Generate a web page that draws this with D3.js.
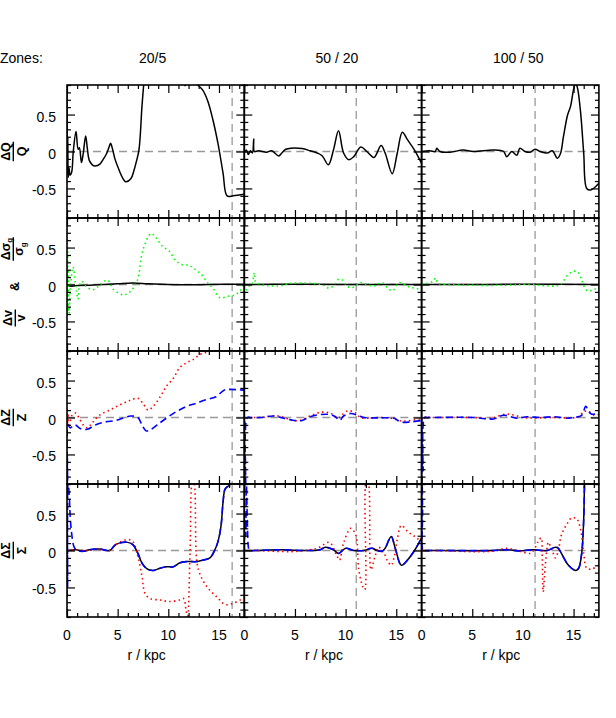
<!DOCTYPE html>
<html>
<head>
<meta charset="utf-8">
<script src="https://cdn.jsdelivr.net/npm/d3@7"></script>
<style>
  html, body { margin: 0; padding: 0; background: #fff; }
  svg { display: block; font-family: "Liberation Sans", Arial, Helvetica, sans-serif; }
</style>
</head>
<body>
<svg id="chart" width="616" height="718"></svg>
<script>
// ---------------- data ----------------
const zones = ["20/5", "50 / 20", "100 / 50"];
const rHalf = [16.3, 11.05, 11.2];               // vertical dashed marker, kpc
const rMajor = [0, 5, 10, 15];
const rMinor = [1, 2, 3, 4, 6, 7, 8, 9, 11, 12, 13, 14, 16, 17];
const yMajor = [-0.5, 0, 0.5];
const yMajorLabels = ["-0.5", "0", "0.5"];
const yMinor = [-0.9, -0.8, -0.7, -0.6, -0.4, -0.3, -0.2, -0.1, 0.1, 0.2, 0.3, 0.4, 0.6, 0.7, 0.8, 0.9];

// Row 1: dQ/Q (black)
const q_20_5 = [[0,0.85],[0.04,-0.3],[0.08,0.2],[0.12,-0.35],[0.2,-0.22],[0.3,-0.32],[0.46,-0.28],[0.62,0.0],[0.89,0.27],[1.1,0.03],[1.22,0.05],[1.43,-0.15],[1.6,-0.03],[1.84,0.21],[2.0,0.05],[2.2,-0.12],[2.5,-0.18],[2.76,-0.195],[3.25,-0.17],[3.6,-0.1],[3.9,-0.03],[4.15,0.06],[4.3,0.11],[4.5,0.03],[4.73,-0.1],[5.2,-0.27],[5.5,-0.36],[5.8,-0.41],[6.3,-0.37],[6.6,-0.26],[6.8,-0.16],[7.1,0.02],[7.4,0.61],[7.6,0.95],[8.0,1.5],[9.5,1.9],[11.0,1.3],[11.5,0.95],[11.65,0.89],[11.8,0.93],[12.3,0.96],[12.8,0.91],[13.4,0.83],[13.9,0.68],[14.4,0.43],[14.9,0.11],[15.4,-0.29],[15.8,-0.6],[16.4,-0.6],[17.5,-0.58]];
const q_50_20 = [[0,-0.02],[0.2,0.02],[0.4,-0.04],[0.6,0.01],[0.8,-0.02],[0.93,0.17],[1.0,0.0],[1.4,0.01],[2.2,-0.01],[2.7,0.01],[3.4,-0.06],[3.7,-0.02],[4.1,0.03],[4.6,0.045],[5.7,0.04],[6.5,0.01],[7.2,-0.02],[7.7,-0.06],[8.3,-0.18],[8.8,0.02],[9.3,0.28],[9.8,-0.02],[10.3,-0.11],[10.8,-0.07],[11.5,0.06],[12.1,0.0],[12.8,-0.08],[13.5,0.08],[13.9,-0.02],[14.6,-0.3],[15.1,-0.02],[15.6,0.26],[16.1,0.16],[16.8,0.02],[17.5,-0.16]];
const q_100_50 = [[0,0.0],[0.8,0.01],[1.35,0.0],[1.5,0.045],[1.8,0.0],[2.8,-0.01],[4.1,0.02],[5.1,0.0],[7.1,0.02],[8.1,0.0],[8.4,-0.07],[8.9,0.0],[9.4,-0.05],[9.7,0.045],[10.2,0.0],[10.7,-0.01],[11.2,0.03],[11.7,0.0],[12.4,-0.02],[12.9,0.01],[13.4,-0.09],[13.7,-0.03],[14.0,0.2],[14.4,0.49],[14.7,0.61],[15.0,0.84],[15.2,0.93],[15.4,0.85],[15.7,0.52],[16.0,-0.02],[16.3,-0.5],[16.7,-0.52],[17.5,-0.43]];

// Row 2: dv/v (black) and dsigma_g/sigma_g (green)
const v_20_5 = [[0,0.0],[0.2,-0.02],[1,-0.015],[3,-0.005],[5,0.01],[6.5,0.02],[8,0.01],[10,0.0],[12,-0.005],[14,0.0],[17.5,0.005]];
const v_50_20 = [[0,0.0],[5,0.005],[10,0.0],[17.5,0.0]];
const v_100_50 = [[0,0.0],[5,0.0],[10,0.005],[17.5,0.0]];
const sig_20_5 = [[0,0.88],[0.03,-0.3],[0.06,0.5],[0.09,-0.4],[0.12,0.2],[0.16,-0.35],[0.2,-0.39],[0.3,-0.1],[0.4,0.05],[0.5,0.18],[0.6,0.24],[0.8,0.04],[0.95,-0.1],[1.1,-0.2],[1.25,0.0],[1.5,0.04],[1.9,-0.03],[2.6,-0.07],[3.3,0.0],[4.0,0.06],[4.6,-0.07],[5.6,-0.14],[6.2,-0.1],[6.9,0.04],[7.5,0.47],[8.3,0.69],[8.8,0.63],[9.4,0.52],[10.1,0.45],[10.7,0.33],[11.3,0.27],[12.0,0.26],[12.7,0.2],[13.3,0.13],[13.9,0.02],[14.4,-0.05],[15.1,-0.18],[15.9,-0.16],[16.6,-0.14],[17.1,-0.08],[17.5,0.0]];
const sig_50_20 = [[0,-0.14],[0.4,-0.03],[0.75,0.0],[0.9,0.1],[0.99,0.16],[1.1,0.04],[1.6,0.0],[3.4,-0.02],[4.6,0.015],[7.6,0.0],[8.4,-0.05],[8.9,0.0],[9.3,0.07],[9.7,0.06],[10.2,-0.03],[10.7,-0.04],[11.5,0.025],[12.1,0.0],[12.8,-0.02],[13.6,0.025],[14.1,-0.04],[14.6,-0.085],[15.3,0.025],[15.8,0.0],[16.4,-0.04],[16.9,-0.05],[17.5,-0.075]];
const sig_100_50 = [[0,0.0],[1.1,0.04],[1.4,0.09],[1.6,0.02],[2.5,0.0],[8.4,-0.01],[10.4,0.0],[13.2,-0.02],[13.7,0.0],[14.0,0.05],[14.5,0.14],[15.0,0.18],[15.4,0.17],[15.8,0.06],[16.2,-0.066],[16.5,-0.09],[17.0,-0.07],[17.5,-0.03]];

// Row 3: dZ/Z, red dotted and blue dashed
const zr_20_5 = [[0,0.12],[0.05,-0.1],[0.1,0.05],[0.2,-0.13],[0.5,0.03],[0.86,0.06],[1.2,-0.01],[1.6,-0.1],[2.0,-0.14],[2.5,-0.07],[3.2,0.03],[4.2,0.1],[5.2,0.17],[6.2,0.23],[7.0,0.26],[7.5,0.19],[8.0,0.1],[8.5,0.15],[9.2,0.28],[9.8,0.42],[10.5,0.53],[11.1,0.67],[11.8,0.74],[12.4,0.78],[13.1,0.85],[13.7,0.88],[14.1,0.92],[15.0,1.05],[17.5,1.2]];
const zb_20_5 = [[0,-0.9],[0.03,-0.5],[0.06,-0.85],[0.1,-0.1],[0.3,-0.14],[0.8,-0.1],[1.3,-0.15],[2.0,-0.16],[2.8,-0.1],[3.8,-0.06],[4.8,-0.04],[5.7,0.0],[6.3,0.02],[7.0,0.0],[7.4,-0.1],[7.8,-0.18],[8.3,-0.16],[8.9,-0.1],[9.9,0.0],[10.8,0.08],[11.8,0.15],[12.7,0.19],[13.7,0.24],[14.7,0.28],[15.5,0.37],[16.0,0.38],[17.5,0.37]];
const zr_50_20 = [[0,0.0],[0.05,-0.1],[0.1,0.0],[0.5,0.0],[1.6,0.0],[3.4,0.02],[4.9,-0.045],[5.7,-0.03],[6.5,0.02],[7.5,0.07],[8.5,0.06],[9.2,-0.01],[9.6,0.03],[10.2,0.09],[10.9,0.07],[11.5,0.0],[13.5,0.0],[14.5,-0.01],[15.4,-0.045],[16.1,-0.045],[17.5,-0.015]];
const zb_50_20 = [[0,0.0],[0.05,-0.9],[0.1,-0.5],[0.15,-0.95],[0.3,0.0],[0.6,0.0],[1.6,0.0],[2.9,0.02],[3.9,-0.01],[4.9,-0.04],[5.7,-0.04],[6.5,0.01],[7.5,0.04],[8.5,0.04],[9.0,0.01],[9.4,-0.04],[9.8,0.02],[10.5,0.055],[11.2,0.03],[11.8,0.0],[13.5,-0.005],[14.8,-0.01],[15.4,-0.06],[16.4,-0.06],[17.5,-0.04]];
const zr_100_50 = [[0,0.0],[0.1,-0.1],[0.3,0.0],[1,0.0],[5,0.0],[6.8,-0.01],[8.3,0.045],[9.2,0.03],[10,0.0],[13,0.0],[15.5,0.01],[16.0,0.08],[16.5,0.08],[17.0,0.03],[17.5,0.045]];
const zb_100_50 = [[0,0.0],[0.05,-0.75],[0.1,-0.2],[0.15,-0.72],[0.3,0.0],[0.6,0.0],[5.1,0.0],[7.1,-0.02],[8.1,0.03],[9.4,-0.01],[10.4,0.01],[11.7,0.0],[13.1,0.01],[14.4,-0.01],[15.0,0.0],[15.8,0.03],[16.2,0.15],[16.5,0.08],[16.8,0.045],[17.5,0.055]];

// Row 4: dSigma/Sigma, black solid, blue dashed, red dotted
const sk_20_5 = [[0,0.0],[0.9,0.01],[1.7,-0.01],[2.2,0.01],[3.2,0.02],[4.2,0.0],[4.8,0.08],[5.5,0.11],[6.0,0.11],[6.5,0.08],[7.0,-0.04],[7.4,-0.17],[7.9,-0.25],[8.5,-0.27],[9.2,-0.24],[9.8,-0.22],[10.5,-0.22],[11.1,-0.17],[11.8,-0.15],[12.8,-0.15],[13.4,-0.13],[14.1,-0.1],[14.6,0.01],[14.9,0.12],[15.2,0.33],[15.4,0.65],[15.6,0.83],[15.9,0.87],[16.4,0.92],[17.5,0.95]];
const sb_20_5 = [[0,-0.63],[0.03,0.4],[0.06,-0.5],[0.1,0.92],[0.2,0.8],[0.3,0.5],[0.45,0.24],[0.7,0.05],[1.0,0.0],[1.7,-0.01],[2.2,0.01],[3.2,0.02],[4.2,0.0],[4.8,0.08],[5.5,0.11],[6.0,0.11],[6.5,0.08],[7.0,-0.04],[7.4,-0.17],[7.9,-0.25],[8.5,-0.27],[9.2,-0.24],[9.8,-0.22],[10.5,-0.22],[11.1,-0.17],[11.8,-0.15],[12.8,-0.15],[13.4,-0.13],[14.1,-0.1],[14.6,0.01],[14.9,0.12],[15.2,0.33],[15.4,0.65],[15.6,0.83],[15.9,0.87],[16.4,0.92],[17.5,0.95]];
const sr_20_5 = [[0,0.0],[1,0.01],[2,0.0],[3,0.02],[4.2,0.0],[4.8,0.08],[5.5,0.13],[6.0,0.15],[6.5,0.12],[7.0,-0.08],[7.4,-0.35],[7.7,-0.58],[8.2,-0.65],[9.2,-0.67],[10.1,-0.69],[11.1,-0.67],[11.5,-0.65],[11.75,-0.81],[11.9,-0.92],[12.15,0.0],[12.4,0.95],[12.5,0.95],[12.8,-0.13],[13.1,-0.31],[13.8,-0.49],[14.8,-0.63],[15.6,-0.73],[16.3,-0.72],[17.1,-0.67],[17.5,-0.66]];
const sk_50_20 = [[0,0.0],[1,0.0],[3.6,0.01],[6.2,0.0],[7.5,0.01],[8.0,0.045],[8.8,0.01],[9.3,-0.04],[10.0,0.03],[10.8,0.0],[11.8,0.0],[12.6,0.03],[13.1,0.0],[13.6,-0.01],[13.9,0.03],[14.5,0.19],[14.9,0.03],[15.5,-0.2],[16.1,-0.13],[16.8,0.0],[17.5,0.17]];
const sb_50_20 = [[0,0.0],[0.1,0.5],[0.15,0.2],[0.2,0.95],[0.3,0.4],[0.4,0.05],[0.5,0.0],[1,0.0],[3.6,0.01],[6.2,0.0],[7.5,0.01],[8.0,0.045],[8.8,0.01],[9.3,-0.04],[10.0,0.03],[10.8,0.0],[11.8,0.0],[12.6,0.03],[13.1,0.0],[13.6,-0.01],[13.9,0.03],[14.5,0.19],[14.9,0.03],[15.5,-0.2],[16.1,-0.13],[16.8,0.0],[17.5,0.17]];
const sr_50_20 = [[0,0.0],[1,0.0],[4.6,-0.015],[6,0.0],[7.2,0.03],[8.4,0.11],[9.1,-0.06],[9.4,-0.13],[9.8,0.1],[10.5,0.3],[11.0,0.21],[11.3,-0.26],[11.7,-0.49],[11.9,-0.53],[12.05,0.95],[12.2,0.95],[12.5,-0.26],[12.9,-0.08],[13.3,0.05],[13.5,0.0],[13.8,-0.04],[14.1,-0.13],[14.5,-0.2],[14.8,-0.08],[15.1,0.15],[15.5,0.34],[16.1,0.26],[16.8,0.19],[17.5,0.12]];
const sk_100_50 = [[0,0.0],[1,0.0],[7,0.0],[8.4,0.01],[9.7,-0.005],[11,0.01],[12.4,0.0],[13.2,0.045],[13.5,0.03],[13.8,-0.04],[14.5,-0.2],[15.2,-0.27],[15.5,-0.24],[15.8,-0.04],[16.0,0.42],[16.1,0.95],[16.3,1.3],[17.5,1.5]];
const sb_100_50 = [[0,0.0],[0.05,0.95],[0.1,0.5],[0.15,0.0],[0.4,0.0],[1,0.0],[7,0.0],[8.4,0.01],[9.7,-0.005],[11,0.01],[12.4,0.0],[13.2,0.045],[13.5,0.03],[13.8,-0.04],[14.5,-0.2],[15.2,-0.27],[15.5,-0.24],[15.8,-0.04],[16.0,0.42],[16.1,0.95],[16.3,1.3],[17.5,1.5]];
const sr_100_50 = [[0,0.0],[1,0.0],[7,-0.01],[8.4,0.03],[9.7,-0.01],[10.7,-0.04],[11.0,-0.01],[11.5,0.12],[11.8,0.17],[11.9,-0.04],[12.0,-0.56],[12.2,-0.22],[12.4,0.05],[12.5,0.11],[12.9,0.0],[13.2,-0.1],[13.5,0.0],[13.8,0.21],[14.4,0.37],[14.8,0.44],[15.3,0.43],[15.7,0.28],[16.0,-0.04],[16.3,-0.24],[16.8,-0.25],[17.5,-0.2]];

// ---------------- layout ----------------
const svg = d3.select("#chart");
const padL = 67, panelW = 177.3, padT = 85, panelH = 133;
const x = d3.scaleLinear().domain([0, 17.5]).range([0, panelW]);
const y = d3.scaleLinear().domain([-0.9, 0.9]).range([panelH, 0]);

const styles = {
  k: { stroke: "#000000", width: 1.5, dash: null },
  b: { stroke: "#0000ff", width: 1.6, dash: "7,4" },
  r: { stroke: "#ff0000", width: 1.6, dash: "1.5,3.2" },
  g: { stroke: "#00ff00", width: 1.6, dash: "1.5,3.2" }
};

const panels = [
  [[[q_20_5,"k"]], [[q_50_20,"k"]], [[q_100_50,"k"]]],
  [[[v_20_5,"k"],[sig_20_5,"g"]], [[v_50_20,"k"],[sig_50_20,"g"]], [[v_100_50,"k"],[sig_100_50,"g"]]],
  [[[zr_20_5,"r"],[zb_20_5,"b"]], [[zr_50_20,"r"],[zb_50_20,"b"]], [[zr_100_50,"r"],[zb_100_50,"b"]]],
  [[[sk_20_5,"k"],[sr_20_5,"r"],[sb_20_5,"b"]], [[sk_50_20,"k"],[sr_50_20,"r"],[sb_50_20,"b"]], [[sk_100_50,"k"],[sr_100_50,"r"],[sb_100_50,"b"]]]
];

const line = d3.line().x(d => x(d[0])).y(d => y(d[1])).curve(d3.curveCatmullRom.alpha(0.5));

const defs = svg.append("defs");
defs.append("clipPath").attr("id", "pclip").append("rect")
  .attr("x", 0).attr("y", 0).attr("width", panelW).attr("height", panelH);

// headers
svg.append("text").attr("x", 0).attr("y", 63).attr("font-size", 14).text("Zones:");
const headOffset = [-3, 4, 8];
zones.forEach((z, c) => {
  svg.append("text").attr("x", padL + c * panelW + panelW / 2 + headOffset[c]).attr("y", 63)
    .attr("text-anchor", "middle").attr("font-size", 14).text(z);
});

panels.forEach((row, ri) => {
  row.forEach((series, ci) => {
    const g = svg.append("g").attr("transform", `translate(${padL + ci * panelW},${padT + ri * panelH})`);
    const plot = g.append("g").attr("clip-path", "url(#pclip)");
    // reference lines
    plot.append("line").attr("x1", 0).attr("x2", panelW).attr("y1", y(0)).attr("y2", y(0))
      .attr("stroke", "#999").attr("stroke-width", 1.3).attr("stroke-dasharray", "8,5");
    plot.append("line").attr("x1", x(rHalf[ci])).attr("x2", x(rHalf[ci])).attr("y1", 0).attr("y2", panelH)
      .attr("stroke", "#999").attr("stroke-width", 1.3).attr("stroke-dasharray", "8,5");
    series.forEach(([data, st]) => {
      const s = styles[st];
      plot.append("path").datum(data).attr("d", line).attr("fill", "none")
        .attr("stroke", s.stroke).attr("stroke-width", s.width)
        .attr("stroke-dasharray", s.dash).attr("stroke-linejoin", "round");
    });
    // axes with inward ticks on all sides
    const mk = (axis, tr) => {
      const a = g.append("g").attr("transform", tr).call(axis);
      a.select(".domain").remove();
      a.selectAll("line").attr("stroke", "#000").attr("stroke-width", 1.2);
      a.selectAll("text").remove();
    };
    mk(d3.axisLeft(y).tickValues(yMajor).tickSize(-8).tickFormat(""), "translate(0,0)");
    mk(d3.axisLeft(y).tickValues(yMinor).tickSize(-4).tickFormat(""), "translate(0,0)");
    mk(d3.axisRight(y).tickValues(yMajor).tickSize(-8).tickFormat(""), `translate(${panelW},0)`);
    mk(d3.axisRight(y).tickValues(yMinor).tickSize(-4).tickFormat(""), `translate(${panelW},0)`);
    mk(d3.axisBottom(x).tickValues(rMajor).tickSize(-8).tickFormat(""), `translate(0,${panelH})`);
    mk(d3.axisBottom(x).tickValues(rMinor).tickSize(-4).tickFormat(""), `translate(0,${panelH})`);
    mk(d3.axisTop(x).tickValues(rMajor).tickSize(-8).tickFormat(""), "translate(0,0)");
    mk(d3.axisTop(x).tickValues(rMinor).tickSize(-4).tickFormat(""), "translate(0,0)");
    // frame
    g.append("rect").attr("x", 0).attr("y", 0).attr("width", panelW).attr("height", panelH)
      .attr("fill", "none").attr("stroke", "#000").attr("stroke-width", 1.6);

    // y tick labels on first column
    if (ci === 0) {
      yMajor.forEach((v, i) => {
        g.append("text").attr("x", -11).attr("y", y(v) + 7).attr("text-anchor", "end")
          .attr("font-size", 14).text(yMajorLabels[i]);
      });
    }
    // x tick labels on bottom row
    if (ri === panels.length - 1) {
      rMajor.forEach(v => {
        g.append("text").attr("x", x(v)).attr("y", panelH + 23).attr("text-anchor", "middle")
          .attr("font-size", 14).text(v);
      });
      g.append("text").attr("x", panelW / 2 - 9).attr("y", panelH + 43).attr("text-anchor", "middle")
        .attr("font-size", 14).text("r / kpc");
    }
  });
});

// rotated fraction labels
function fraction(cx, cy, num, den, numOff, denOff) {
  const g = svg.append("g").attr("transform", `translate(${cx},${cy}) rotate(-90)`)
    .attr("font-size", 12.5).attr("font-weight", "bold");
  const addParts = (t, parts) => parts.forEach(p => {
    const ts = t.append("tspan").text(p.t);
    if (p.sub) ts.attr("font-size", 8).attr("dy", 2.5);
  });
  const n = g.append("text").attr("text-anchor", "middle").attr("y", numOff);
  addParts(n, num);
  const d = g.append("text").attr("text-anchor", "middle").attr("y", denOff);
  addParts(d, den);
  const w = Math.max(n.node().getComputedTextLength(), d.node().getComputedTextLength()) + 1;
  g.append("line").attr("x1", -w / 2).attr("x2", w / 2).attr("y1", 0).attr("y2", 0)
    .attr("stroke", "#000").attr("stroke-width", 1.4);
}
const rowZero = r => padT + r * panelH + y(0);
fraction(13.3, rowZero(0), [{t:"ΔQ"}], [{t:"Q"}], -3.5, 12.5);
fraction(13.3, 249, [{t:"Δσ"},{t:"g", sub:true}], [{t:"σ"},{t:"g", sub:true}], -3.5, 10);
svg.append("text").attr("transform", `translate(18.5,${rowZero(1) + 2}) rotate(-90)`)
  .attr("text-anchor", "middle").attr("font-size", 12.5).attr("font-weight", "bold").text("&");
fraction(15.3, 318, [{t:"Δv"}], [{t:"v"}], -3, 9.5);
fraction(13.3, rowZero(2), [{t:"ΔZ"}], [{t:"Z"}], -3.5, 12.5);
fraction(13.3, rowZero(3), [{t:"ΔΣ"}], [{t:"Σ"}], -3.5, 12.5);
</script>
</body>
</html>
